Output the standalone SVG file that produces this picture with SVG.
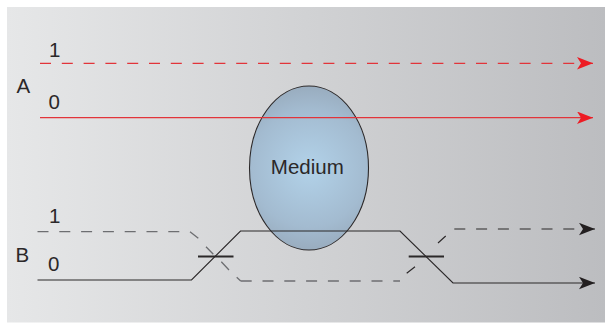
<svg xmlns="http://www.w3.org/2000/svg" width="605" height="323" viewBox="0 0 605 323">
<style>
text{font-family:"Liberation Sans",Arial,sans-serif;font-size:20.500px;fill:#2b2829}
.l{fill:none;stroke-width:1.150}
.d{stroke-dasharray:11 10.8}
.r{stroke:#e2343a;stroke-width:1.300}
.k{stroke:#2b2829}
.g{stroke:#6d6e71;stroke-width:1.300}
.b{stroke:#2b2829;stroke-width:2;fill:none}
</style>
<defs>
<linearGradient id="bg" x1="0" y1="0" x2="1" y2="0"><stop offset="0" stop-color="#e6e7e8"/><stop offset="1" stop-color="#bcbdc0"/></linearGradient>
<radialGradient id="el" gradientUnits="userSpaceOnUse" cx="309" cy="168" r="84"><stop offset="0" stop-color="#b2d2e9"/><stop offset="0.7" stop-color="#a3bbd0"/><stop offset="1" stop-color="#98abbd"/></radialGradient>
<marker id="ar" markerUnits="userSpaceOnUse" markerWidth="17" markerHeight="13" refX="16" refY="6.2" orient="auto"><path d="M0 0L16 6.2L0 12.4L4 6.2Z" fill="#ed1c24"/></marker>
<marker id="ak" markerUnits="userSpaceOnUse" markerWidth="17" markerHeight="13" refX="16" refY="6.2" orient="auto"><path d="M0 0L16 6.2L0 12.4L4 6.2Z" fill="#231f20"/></marker>
</defs>
<rect id="background" x="7" y="7" width="598" height="315.500" fill="url(#bg)"/>
<g id="medium"><ellipse cx="309" cy="168" rx="59.500" ry="82" fill="url(#el)" stroke="#2b2829" stroke-width="1.100"/><text x="307.300" y="173.500" text-anchor="middle">Medium</text></g>
<g id="connectors">
<path class="l r d" d="M40 63.300H593" marker-end="url(#ar)"/>
<path class="l r" d="M40 117.700H593" marker-end="url(#ar)"/>
<path class="l g d" d="M37.500 231.700H190"/>
<path class="l g" d="M190 231.700L198.300 238.300M206 246.700L213.300 254.300M221.300 261.700L229 270M236.700 277.300L240.700 281"/>
<path class="l g d" d="M240.700 281H400"/>
<path class="l k" d="M406.700 273.300L415 266.700M438 243L445.700 236"/>
<path class="l k d" d="M454.300 229H595" marker-end="url(#ak)"/>
<path class="l k" d="M37.500 280H191.500L240.500 231H400L453 283H595" marker-end="url(#ak)"/>
</g>
<g id="splitter-left"><path class="b" d="M198 256.500H233.500"/></g>
<g id="splitter-right"><path class="b" d="M408.700 256.500H444"/></g>
<g id="label-a"><text x="16.500" y="92.700">A</text><text x="49" y="56.800">1</text><text x="48.500" y="109">0</text></g>
<g id="label-b"><text x="15.500" y="261.500">B</text><text x="49" y="222.800">1</text><text x="48" y="270.500">0</text></g>
</svg>
